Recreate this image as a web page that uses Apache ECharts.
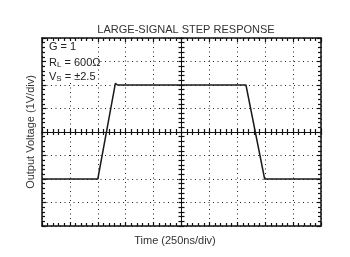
<!DOCTYPE html>
<html><head><meta charset="utf-8">
<script src="https://cdn.jsdelivr.net/npm/echarts@6/dist/echarts.min.js"></script>
<style>html,body{margin:0;padding:0;background:#fff}#c{width:350px;height:257px}</style>
</head><body><div id="c"></div>
<script>
// Data (x in divisions of 250 ns, y in divisions of 1 V)
const timeDiv = [0, 2.0, 2.63, 2.71, 7.31, 7.98, 10];
const voltDiv = [-2, -2, 2.07, 2.0, 2.0, -2, -2];
const titleText = 'LARGE-SIGNAL STEP RESPONSE';
const xLabel = 'Time (250ns/div)';
const yLabel = 'Output Voltage (1V/div)';

const L = 42, T = 38, W = 279, H = 188;
const chart = echarts.init(document.getElementById('c'), null, {renderer: 'canvas'});
const black = '#111';
function xa(gi, pos, opts) {
  return Object.assign({
    type: 'value', gridIndex: gi, position: pos, min: 0, max: 10, interval: 1,
    axisLabel: {show: false},
    axisLine: {show: true, onZero: false, lineStyle: {color: black, width: 1.5}},
    axisTick: {show: true, inside: true, length: 4, lineStyle: {color: black, width: 1.2}},
    minorTick: {show: true, splitNumber: 5, length: 3, lineStyle: {color: black, width: 1.2}},
    splitLine: {show: false}
  }, opts || {});
}
function ya(gi, pos, opts) {
  return Object.assign({
    type: 'value', gridIndex: gi, position: pos, min: -4, max: 4, interval: 1,
    axisLabel: {show: false},
    axisLine: {show: true, onZero: false, lineStyle: {color: black, width: 1.5}},
    axisTick: {show: true, inside: true, length: 4, lineStyle: {color: black, width: 1.2}},
    minorTick: {show: true, splitNumber: 5, length: 3, lineStyle: {color: black, width: 1.2}},
    splitLine: {show: false}
  }, opts || {});
}
const dotted = {show: true, lineStyle: {color: '#222', width: 1, type: [1, 3.5]}};
const cLine = {show: true, onZero: false, lineStyle: {color: black, width: 1}};
const cTick = {show: true, inside: true, length: 3, lineStyle: {color: black, width: 1.2}};
const txt = '11px "Liberation Sans"';
chart.setOption({
  animation: false,
  title: {text: titleText, left: 181, top: 19, textAlign: 'center',
    textStyle: {fontFamily: 'Liberation Sans', fontSize: 11, fontWeight: 'normal', color: '#333'}},
  grid: [
    {left: L, top: T, width: W, height: H},
    {left: L, top: T, width: W, height: H},
    {left: L, top: T, width: W, height: H / 2},
    {left: L, top: T + H / 2, width: W, height: H / 2},
    {left: L, top: T, width: W / 2, height: H},
    {left: L + W / 2, top: T, width: W / 2, height: H}
  ],
  xAxis: [
    xa(0, 'bottom', {splitLine: dotted}),
    xa(1, 'top'),
    xa(2, 'bottom', {axisLine: cLine, axisTick: cTick}),
    xa(3, 'top', {axisLine: cLine, axisTick: cTick}),
    {type: 'value', gridIndex: 4, min: 0, max: 5, show: false},
    {type: 'value', gridIndex: 5, min: 5, max: 10, show: false}
  ],
  yAxis: [
    ya(0, 'left', {splitLine: dotted}),
    ya(1, 'right'),
    {type: 'value', gridIndex: 2, min: 0, max: 4, show: false},
    {type: 'value', gridIndex: 3, min: -4, max: 0, show: false},
    ya(4, 'right', {axisLine: cLine, axisTick: cTick}),
    ya(5, 'left', {axisLine: cLine, axisTick: cTick})
  ],
  series: [{
    type: 'line', xAxisIndex: 0, yAxisIndex: 0, showSymbol: false, z: 10,
    data: timeDiv.map((t, i) => [t, voltDiv[i]]),
    lineStyle: {color: '#1a1a1a', width: 1.5}
  }],
  graphic: [
    {type: 'text', left: 'center', top: 235, style: {text: xLabel, font: txt, fill: '#333'}},
    {type: 'text', x: 31, y: 132, rotation: Math.PI / 2, style: {text: yLabel, font: txt, fill: '#333', align: 'center', verticalAlign: 'middle'}},
    {type: 'rect', z: 15, shape: {x: 46, y: 41, width: 51, height: 41}, style: {fill: '#fff'}},
    {type: 'text', x: 49, y: 41, z: 20, style: {text: 'G = 1', font: txt, fill: '#222'}},
    {type: 'text', x: 49, y: 56, z: 20, style: {text: '{m|R}{s|L}{m| = 600Ω}', rich: {m: {font: txt, fill: '#222'}, s: {font: '8px "Liberation Sans"', fill: '#222', padding: [5, 0, 0, 0]}}}},
    {type: 'text', x: 49, y: 70, z: 20, style: {text: '{m|V}{s|S}{m| = ±2.5}', rich: {m: {font: txt, fill: '#222'}, s: {font: '8px "Liberation Sans"', fill: '#222', padding: [5, 0, 0, 0]}}}}
  ]
});
</script></body></html>
